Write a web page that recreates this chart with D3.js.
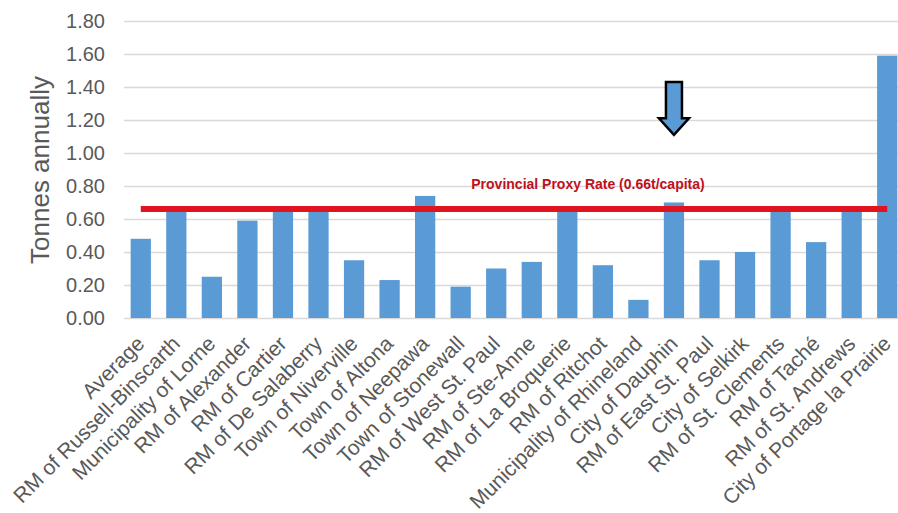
<!DOCTYPE html>
<html>
<head>
<meta charset="utf-8">
<script src="https://cdn.jsdelivr.net/npm/d3@7"></script>
<style>
  html, body { margin: 0; padding: 0; background: #ffffff; }
  svg { display: block; font-family: "Liberation Sans", Arial, sans-serif; }
</style>
</head>
<body>
<svg id="chart" width="898" height="513"></svg>
<script>
const categories = [
  "Average", "RM of Russell-Binscarth", "Municipality of Lorne", "RM of Alexander",
  "RM of Cartier", "RM of De Salaberry", "Town of Niverville", "Town of Altona",
  "Town of Neepawa", "Town of Stonewall", "RM of West St. Paul", "RM of Ste-Anne",
  "RM of La Broquerie", "RM of Ritchot", "Municipality of Rhineland", "City of Dauphin",
  "RM of East St. Paul", "City of Selkirk", "RM of St. Clements", "RM of Taché",
  "RM of St. Andrews", "City of Portage la Prairie"
];
const values = [
  0.48, 0.66, 0.25, 0.59,
  0.66, 0.66, 0.35, 0.23,
  0.74, 0.19, 0.30, 0.34,
  0.66, 0.32, 0.11, 0.70,
  0.35, 0.40, 0.66, 0.46,
  0.66, 1.59
];
const yTicks = [0, 0.2, 0.4, 0.6, 0.8, 1.0, 1.2, 1.4, 1.6, 1.8];
const proxyRate = 0.66;
const proxyLabel = "Provincial Proxy Rate (0.66t/capita)";
const yTitle = "Tonnes annually";
const highlighted = "City of Dauphin";

(function () {
const svg = d3.select("#chart");
const x = d3.scaleBand().domain(categories).range([123, 905]).paddingInner(0.43).paddingOuter(0.215);
const y = d3.scaleLinear().domain([0, 1.8]).range([318, 21]);

// gridlines + y labels
const yAxis = d3.axisLeft(y).tickValues(yTicks).tickFormat(d3.format(".2f"))
  .tickSize(-(905 - 124)).tickPadding(19);
const gy = svg.append("g").attr("transform", "translate(124,0)").call(yAxis);
gy.select(".domain").remove();
gy.selectAll(".tick line").attr("stroke", "#d9d9d9").attr("stroke-width", 1.5);
gy.selectAll(".tick text").attr("fill", "#595959").attr("font-size", 20)
  .attr("font-family", "Liberation Sans, Arial, sans-serif");

// bars
svg.append("g").selectAll("rect").data(categories).join("rect")
  .attr("x", d => x(d))
  .attr("width", x.bandwidth())
  .attr("y", (d, i) => y(values[i]))
  .attr("height", (d, i) => y(0) - y(values[i]))
  .attr("fill", "#5b9bd5");

// x axis labels
const xAxis = d3.axisBottom(x).tickSize(0).tickPadding(0);
const gx = svg.append("g").attr("transform", `translate(0,${y(0)})`).call(xAxis);
gx.select(".domain").remove();
gx.selectAll(".tick text")
  .attr("fill", "#595959").attr("font-size", 21)
  .attr("font-family", "Liberation Sans, Arial, sans-serif")
  .attr("text-anchor", "end")
  .attr("dy", 0)
  .attr("y", 0)
  .attr("transform", "translate(5,27) rotate(-45)");

// proxy line
const firstC = x(categories[0]) + x.bandwidth() / 2;
const lastC = x(categories[categories.length - 1]) + x.bandwidth() / 2;
svg.append("line")
  .attr("x1", firstC).attr("x2", lastC)
  .attr("y1", y(proxyRate)).attr("y2", y(proxyRate))
  .attr("stroke", "#e0141e").attr("stroke-width", 6);

svg.append("text")
  .attr("x", 588).attr("y", y(proxyRate) - 20)
  .attr("text-anchor", "middle")
  .attr("font-size", 14).attr("font-weight", "bold")
  .attr("fill", "#c0101c")
  .text(proxyLabel);

// arrow above highlighted bar
const ac = x(highlighted) + x.bandwidth() / 2;
const aTop = y(1.43), aNeck = y(1.21), aTip = y(1.11);
const sw = 8, hw = 15;
svg.append("path")
  .attr("d", `M${ac - sw},${aTop} L${ac + sw},${aTop} L${ac + sw},${aNeck} L${ac + hw},${aNeck} L${ac},${aTip} L${ac - hw},${aNeck} L${ac - sw},${aNeck} Z`)
  .attr("fill", "#5b9bd5").attr("stroke", "#000").attr("stroke-width", 2.5)
  .attr("stroke-linejoin", "miter");

// y title
svg.append("text")
  .attr("transform", `translate(49,170) rotate(-90)`)
  .attr("text-anchor", "middle")
  .attr("font-size", 26)
  .attr("fill", "#595959")
  .text(yTitle);
})();
</script>
</body>
</html>
